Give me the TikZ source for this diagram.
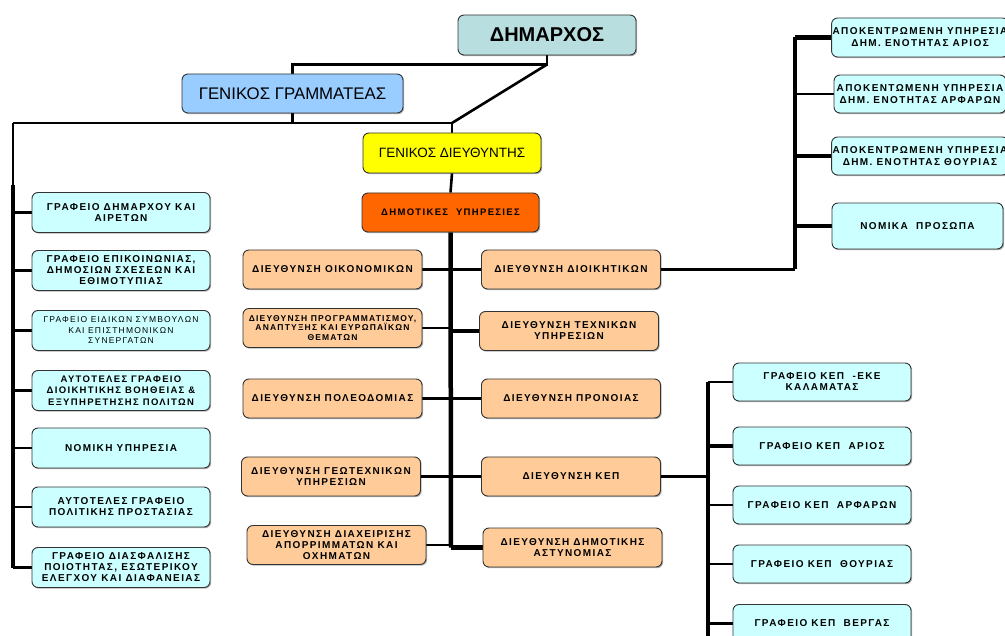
\documentclass[tikz,border=0pt]{standalone}
\usepackage{fontspec}
\setmainfont{Liberation Sans}
\newfontfamily\lsfont{Liberation Sans}[LetterSpace=14]
\usetikzlibrary{shadows}
\definecolor{cTeal}{HTML}{B8DEE0}
\definecolor{cBlue}{HTML}{99CCFF}
\definecolor{cYel}{HTML}{FFFF00}
\definecolor{cOrg}{HTML}{FF6600}
\definecolor{cPeach}{HTML}{FFCC99}
\definecolor{cCyan}{HTML}{CCFFFF}
\pgfdeclarelayer{bg}
\pgfsetlayers{bg,main}
\begin{document}
\begin{tikzpicture}[x=1pt,y=-1pt,
  box/.style={draw=black!80, line width=0.9pt, rounded corners=6pt, align=center,
    inner sep=1pt, text=black,
    drop shadow={shadow xshift=1.2pt, shadow yshift=-1.2pt, opacity=0.3, fill=black}},
  sm/.style={font=\lsfont\bfseries\fontsize{10}{11}\selectfont},
  cy/.style={box, fill=cCyan, sm, minimum width=178, minimum height=40},
  pe/.style={box, fill=cPeach, sm, minimum width=179, minimum height=39},
  kep/.style={box, fill=cCyan, sm, minimum width=178, minimum height=38},
  conn/.style={line width=2.6pt},
  spine/.style={line width=4.5pt}]
\useasboundingbox (0,0) rectangle (1005,636);
\clip (0,0) rectangle (1005,636);

% top
\node[box, fill=cTeal, minimum width=178, minimum height=40, font=\bfseries\fontsize{20}{24}\selectfont] (dim) at (547,35) {ΔΗΜΑΡΧΟΣ};
\node[box, fill=cBlue, minimum width=221, minimum height=39, font=\fontsize{16.8}{19}\selectfont] (gg) at (292.5,93.5) {ΓΕΝΙΚΟΣ ΓΡΑΜΜΑΤΕΑΣ};
\node[box, fill=cYel, minimum width=178, minimum height=40, font=\fontsize{13.5}{16}\selectfont] (gd) at (452,153) {ΓΕΝΙΚΟΣ ΔΙΕΥΘΥΝΤΗΣ};
\node[box, fill=cOrg, minimum width=177, minimum height=39, font=\lsfont\bfseries\fontsize{9.5}{11}\selectfont] (dy) at (450.5,212.5) {ΔΗΜΟΤΙΚΕΣ \ ΥΠΗΡΕΣΙΕΣ};

% left column
\node[cy] (l1) at (121,212.5) {ΓΡΑΦΕΙΟ ΔΗΜΑΡΧΟΥ ΚΑΙ\\ΑΙΡΕΤΩΝ};
\node[cy] (l2) at (121,270.5) {ΓΡΑΦΕΙΟ ΕΠΙΚΟΙΝΩΝΙΑΣ,\\ΔΗΜΟΣΙΩΝ ΣΧΕΣΕΩΝ ΚΑΙ\\ΕΘΙΜΟΤΥΠΙΑΣ};
\node[cy, font=\lsfont\fontsize{8.5}{10.5}\selectfont] (l3) at (121,330.5) {ΓΡΑΦΕΙΟ ΕΙΔΙΚΩΝ ΣΥΜΒΟΥΛΩΝ\\ΚΑΙ ΕΠΙΣΤΗΜΟΝΙΚΩΝ\\ΣΥΝΕΡΓΑΤΩΝ};
\node[cy, font=\lsfont\bfseries\fontsize{9.5}{11.5}\selectfont] (l4) at (121,390.5) {ΑΥΤΟΤΕΛΕΣ ΓΡΑΦΕΙΟ\\ΔΙΟΙΚΗΤΙΚΗΣ ΒΟΗΘΕΙΑΣ \&\\ΕΞΥΠΗΡΕΤΗΣΗΣ ΠΟΛΙΤΩΝ};
\node[cy] (l5) at (121,448) {ΝΟΜΙΚΗ ΥΠΗΡΕΣΙΑ};
\node[cy] (l6) at (121,507) {ΑΥΤΟΤΕΛΕΣ ΓΡΑΦΕΙΟ\\ΠΟΛΙΤΙΚΗΣ ΠΡΟΣΤΑΣΙΑΣ};
\node[cy] (l7) at (121,567.5) {ΓΡΑΦΕΙΟ ΔΙΑΣΦΑΛΙΣΗΣ\\ΠΟΙΟΤΗΤΑΣ, ΕΣΩΤΕΡΙΚΟΥ\\ΕΛΕΓΧΟΥ ΚΑΙ ΔΙΑΦΑΝΕΙΑΣ};

% middle left
\node[pe] (ml1) at (332.5,269.5) {ΔΙΕΥΘΥΝΣΗ ΟΙΚΟΝΟΜΙΚΩΝ};
\node[pe, font=\lsfont\bfseries\fontsize{8.5}{9.5}\selectfont] (ml2) at (332.5,328) {ΔΙΕΥΘΥΝΣΗ ΠΡΟΓΡΑΜΜΑΤΙΣΜΟΥ,\\ΑΝΑΠΤΥΞΗΣ ΚΑΙ ΕΥΡΩΠΑΪΚΩΝ\\ΘΕΜΑΤΩΝ};
\node[pe] (ml3) at (332.5,398.5) {ΔΙΕΥΘΥΝΣΗ ΠΟΛΕΟΔΟΜΙΑΣ};
\node[pe] (ml4) at (331,476.5) {ΔΙΕΥΘΥΝΣΗ ΓΕΩΤΕΧΝΙΚΩΝ\\ΥΠΗΡΕΣΙΩΝ};
\node[pe] (ml5) at (336.5,545) {ΔΙΕΥΘΥΝΣΗ ΔΙΑΧΕΙΡΙΣΗΣ\\ΑΠΟΡΡΙΜΜΑΤΩΝ ΚΑΙ\\ΟΧΗΜΑΤΩΝ};

% middle right
\node[pe] (mr1) at (571,269.5) {ΔΙΕΥΘΥΝΣΗ ΔΙΟΙΚΗΤΙΚΩΝ};
\node[pe] (mr2) at (569,331) {ΔΙΕΥΘΥΝΣΗ ΤΕΧΝΙΚΩΝ\\ΥΠΗΡΕΣΙΩΝ};
\node[pe] (mr3) at (571,398.5) {ΔΙΕΥΘΥΝΣΗ ΠΡΟΝΟΙΑΣ};
\node[pe] (mr4) at (571,476.5) {ΔΙΕΥΘΥΝΣΗ ΚΕΠ};
\node[pe] (mr5) at (572.5,547.5) {ΔΙΕΥΘΥΝΣΗ ΔΗΜΟΤΙΚΗΣ\\ΑΣΤΥΝΟΜΙΑΣ};

% right top
\node[box, fill=cCyan, minimum width=172, minimum height=39, font=\lsfont\bfseries\fontsize{10}{12}\selectfont] (r1) at (920,37.5) {ΑΠΟΚΕΝΤΡΩΜΕΝΗ ΥΠΗΡΕΣΙΑ\\ΔΗΜ. ΕΝΟΤΗΤΑΣ ΑΡΙΟΣ};
\node[box, fill=cCyan, minimum width=172, minimum height=38, font=\lsfont\bfseries\fontsize{10}{12}\selectfont] (r2) at (920,94) {ΑΠΟΚΕΝΤΩΜΕΝΗ ΥΠΗΡΕΣΙΑ\\ΔΗΜ. ΕΝΟΤΗΤΑΣ ΑΡΦΑΡΩΝ};
\node[box, fill=cCyan, minimum width=172, minimum height=38, font=\lsfont\bfseries\fontsize{10}{12}\selectfont] (r3) at (920,156) {ΑΠΟΚΕΝΤΡΩΜΕΝΗ ΥΠΗΡΕΣΙΑ\\ΔΗΜ. ΕΝΟΤΗΤΑΣ ΘΟΥΡΙΑΣ};
\node[box, fill=cCyan, minimum width=171, minimum height=46, sm] (r4) at (917.5,226) {ΝΟΜΙΚΑ \ ΠΡΟΣΩΠΑ};

% right bottom
\node[kep] (k1) at (822,382) {ΓΡΑΦΕΙΟ ΚΕΠ \ -ΕΚΕ\\ΚΑΛΑΜΑΤΑΣ};
\node[kep] (k2) at (822,446) {ΓΡΑΦΕΙΟ ΚΕΠ \ ΑΡΙΟΣ};
\node[kep] (k3) at (822,505) {ΓΡΑΦΕΙΟ ΚΕΠ \ ΑΡΦΑΡΩΝ};
\node[kep] (k4) at (822,564) {ΓΡΑΦΕΙΟ ΚΕΠ \ ΘΟΥΡΙΑΣ};
\node[kep] (k5) at (822,623.5) {ΓΡΑΦΕΙΟ ΚΕΠ \ ΒΕΡΓΑΣ};

% connectors
\coordinate (j1) at (547,64.5);
\coordinate (j2) at (452,123);
\coordinate (j3) at (13,123);
\coordinate (j4) at (13,567.5);
\coordinate (c2) at (451,547.5);
\coordinate (rt) at (795,37.5);
\coordinate (rb) at (708,382);
\coordinate (rbb) at (708,640);
\begin{pgfonlayer}{bg}
\fill[white] (0,0) rectangle (1005,636);
\draw[conn] (dim.south) -- (j1) -| (gg.north);
\draw[conn] (j1) -- (j2);
\draw[conn] (gg.south) -- (gg.south |- j3);
\draw[conn] (j3) -- (j2) -- (gd.north);
\draw[conn] (j3) -- (13,188);
\draw[spine] (13,185) -- (j4);
\foreach \n in {l1,l2,l3,l4,l5,l6,l7} \draw[conn] (\n.west) -- (\n.west -| j3);
\draw[conn] (gd.south) -- (dy.north);
\draw[spine] (dy.south) -- (c2);
\draw[conn] (ml1.east) -- (mr1.west);
\draw[conn] (ml2.east) -- (ml2.east -| c2);
\draw[spine] (mr2.west) -- (mr2.west -| c2);
\draw[conn] (ml3.east) -- (mr3.west);
\draw[conn] (ml4.east) -- (mr4.west);
\draw[conn] (ml5.east) -- (ml5.east -| c2);
\draw[spine] (mr5.west) -- (mr5.west -| c2);
\draw[spine] (rt) -- (rt |- mr1.east);
\draw[conn] (mr1.east) -- (rt |- mr1.east);
\foreach \n in {r1,r3,r4} \draw[spine] (\n.west) -- (\n.west -| rt);
\draw[conn] (r2.west) -- (r2.west -| rt);
\draw[conn] (mr4.east) -- (mr4.east -| rb);
\draw[spine] (rb) -- (rbb);
\foreach \n in {k1,k3,k4,k5} \draw[conn] (\n.west) -- (\n.west -| rb);
\draw[spine] (k2.west) -- (k2.west -| rb);
\end{pgfonlayer}
\end{tikzpicture}
\end{document}
